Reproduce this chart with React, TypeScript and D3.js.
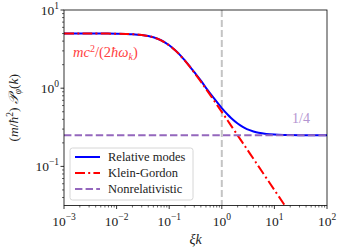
import React from "react";
import * as d3 from "d3";

const xi = [0.001, 0.002, 0.003, 0.005, 0.01, 0.015, 0.02, 0.03, 0.04, 0.05, 0.07, 0.1, 0.13, 0.15, 0.2, 0.25, 0.3, 0.4, 0.5, 0.7, 1, 1.3, 1.5, 2, 2.5, 3, 4, 5, 7, 10, 15, 20, 30, 50, 100];
const relative = [5.006, 5.005, 5.004, 5.0, 4.981, 4.951, 4.909, 4.795, 4.646, 4.479, 4.104, 3.544, 3.057, 2.785, 2.250, 1.872, 1.601, 1.252, 1.012, 0.750, 0.557, 0.457, 0.416, 0.353, 0.320, 0.300, 0.280, 0.269, 0.260, 0.255, 0.2522, 0.2512, 0.2506, 0.2502, 0.2500];
const kleinGordon = [5.0, 4.9999, 4.998, 4.994, 4.975, 4.945, 4.903, 4.789, 4.642, 4.472, 4.096, 3.536, 3.046, 2.774, 2.236, 1.857, 1.581, 1.213, 0.981, 0.707, 0.4975, 0.3834, 0.3326, 0.2497, 0.1998, 0.1666, 0.1249, 0.1, 0.0714, 0.05, 0.0333, 0.025, 0.0167, 0.01, 0.005];
const nonRelValue = 0.25;
const markerX = 1;
const xTicks = [-3, -2, -1, 0, 1, 2];
const yTicks = [-1, 0, 1];
const legendLabels = ["Relative modes", "Klein-Gordon", "Nonrelativistic"];

const W = 342, H = 251;
const L = 64, R = 327, T = 10, B = 205.5;

export default function App() {
  const x = d3.scaleLog().domain([1e-3, 1e2]).range([L, R]);
  const y = d3.scaleLog().domain([Math.pow(10, -1.5), 10]).range([B, T]);
  const line = d3
    .line<[number, number]>()
    .x((d) => x(d[0]))
    .y((d) => y(d[1]))
    .curve(d3.curveCatmullRom.alpha(0.5));
  const blueD = line(xi.map((v, i) => [v, relative[i]] as [number, number])) || "";
  const redD = line(xi.map((v, i) => [v, kleinGordon[i]] as [number, number])) || "";

  const xMinor: number[] = [];
  for (let e = -3; e < 2; e++) for (let m = 2; m <= 9; m++) xMinor.push(m * Math.pow(10, e));
  const yMinor: number[] = [];
  for (let e = -2; e < 1; e++)
    for (let m = 2; m <= 9; m++) {
      const v = m * Math.pow(10, e);
      if (v >= Math.pow(10, -1.5) && v <= 10) yMinor.push(v);
    }

  const font = "Liberation Serif";
  const sup = (e: number) => (e < 0 ? "\u2212" + Math.abs(e) : String(e));
  const colors = ["#0000ff", "#ff0000", "#9467bd"];

  return (
    <svg width={W} height={H} fontFamily={font} style={{ position: "absolute", left: 0, top: 0, background: "#fff" }}>
      <defs>
        <clipPath id="plot">
          <rect x={L} y={T} width={R - L} height={B - T} />
        </clipPath>
      </defs>
      <rect x={0} y={0} width={W} height={H} fill="#fff" />
      <g clipPath="url(#plot)">
        <line x1={x(markerX)} x2={x(markerX)} y1={T} y2={B} stroke="#c4c4c4" strokeWidth={2} strokeDasharray="7,3" />
        <path d={blueD} fill="none" stroke={colors[0]} strokeWidth={2} />
        <path d={redD} fill="none" stroke={colors[1]} strokeWidth={2} strokeDasharray="10,3.2,2,3.2" />
        <line x1={L} x2={R} y1={y(nonRelValue)} y2={y(nonRelValue)} stroke={colors[2]} strokeWidth={2} strokeDasharray="7.4,3.2" />
      </g>
      <rect x={L} y={T} width={R - L} height={B - T} fill="none" stroke="#000" strokeWidth={0.8} />
      {xMinor.map((v, i) => (
        <line key={"xm" + i} x1={x(v)} x2={x(v)} y1={B} y2={B + 2} stroke="#000" strokeWidth={0.6} />
      ))}
      {yMinor.map((v, i) => (
        <line key={"ym" + i} x1={L - 2} x2={L} y1={y(v)} y2={y(v)} stroke="#000" strokeWidth={0.6} />
      ))}
      {xTicks.map((e) => {
        const px = x(Math.pow(10, e));
        return (
          <g key={"xt" + e}>
            <line x1={px} x2={px} y1={B} y2={B + 3.5} stroke="#000" strokeWidth={0.8} />
            <text x={px} y={226} fontSize={13.5} textAnchor="middle" fill="#222">
              10<tspan fontSize={9.5} dy={-6}>{sup(e)}</tspan>
            </text>
          </g>
        );
      })}
      {yTicks.map((e) => {
        const py = y(Math.pow(10, e));
        return (
          <g key={"yt" + e}>
            <line x1={L - 3.5} x2={L} y1={py} y2={py} stroke="#000" strokeWidth={0.8} />
            <text x={L - 5} y={py + 4.5} fontSize={13.5} textAnchor="end" fill="#222">
              10<tspan fontSize={9.5} dy={-6}>{sup(e)}</tspan>
            </text>
          </g>
        );
      })}
      <text x={(L + R) / 2} y={244} fontSize={14} textAnchor="middle" fontStyle="italic" fill="#222">
        ξk
      </text>
      <text transform={`translate(18,${(T + B) / 2}) rotate(-90)`} fontSize={13.5} textAnchor="middle" fill="#222">
        (<tspan fontStyle="italic">m</tspan>/<tspan fontStyle="italic">ħ</tspan>
        <tspan fontSize={9.5} dy={-5}>2</tspan>
        <tspan dy={5}>) </tspan>
        <tspan fontStyle="italic">𝒫</tspan>
        <tspan fontSize={9.5} dy={3} fontStyle="italic">φ</tspan>
        <tspan dy={-3}>(</tspan>
        <tspan fontStyle="italic">k</tspan>)
      </text>
      <text x={73} y={57} fontSize={14.5} fill="#ff4040">
        <tspan fontStyle="italic">mc</tspan>
        <tspan fontSize={10} dy={-5.5}>2</tspan>
        <tspan dy={5.5}>/(2</tspan>
        <tspan fontStyle="italic">ħω</tspan>
        <tspan fontSize={10} dy={3} fontStyle="italic">k</tspan>
        <tspan dy={-3}>)</tspan>
      </text>
      <text x={292} y={123} fontSize={14} fill="#b495d1">
        1/4
      </text>
      <rect x={70} y={148} width={123} height={52} rx={2.5} fill="#fff" fillOpacity={0.8} stroke="#cccccc" strokeWidth={0.8} />
      {legendLabels.map((lab, i) => {
        const ly = 157 + i * 16;
        const dash = i === 0 ? undefined : i === 1 ? "10,3.2,2,3.2" : "7.4,3.2";
        return (
          <g key={lab}>
            <line x1={75} x2={100} y1={ly} y2={ly} stroke={colors[i]} strokeWidth={2} strokeDasharray={dash} />
            <text x={108} y={ly + 4} fontSize={12.5} fill="#222">
              {lab}
            </text>
          </g>
        );
      })}
    </svg>
  );
}
